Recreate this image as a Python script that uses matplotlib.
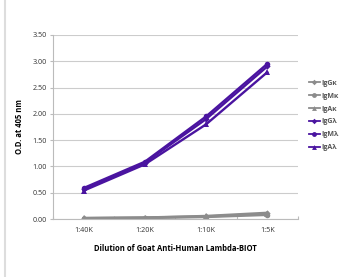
import matplotlib
matplotlib.use("Agg")
import matplotlib.pyplot as plt
from matplotlib.lines import Line2D

dilutions = ["1:40K", "1:20K", "1:10K", "1:5K"]

igg_k = [0.02, 0.03, 0.06, 0.12]
igm_k = [0.01, 0.02, 0.04, 0.08]
iga_k = [0.02, 0.03, 0.05, 0.10]
igg_l = [0.57, 1.07, 1.90, 2.90]
igm_l = [0.59, 1.09, 1.95, 2.95]
iga_l = [0.54, 1.04, 1.80, 2.79]

series = [
    ("IgG\u03ba", igg_k, "#8c8c8c", "D"),
    ("IgM\u03ba", igm_k, "#8c8c8c", "o"),
    ("IgA\u03ba", iga_k, "#8c8c8c", "^"),
    ("IgG\u03bb", igg_l, "#4a14a0", "D"),
    ("IgM\u03bb", igm_l, "#4a14a0", "o"),
    ("IgA\u03bb", iga_l, "#4a14a0", "^"),
]

plt.rcParams["font.family"] = ["Open Sans", "DejaVu Sans"]

fig = plt.figure(figsize=(3.58, 2.77), dpi=100)
ax = fig.add_axes([0.148, 0.209, 0.684, 0.665])

x = [i + 0.5 for i in range(len(dilutions))]
handles = []
for name, vals, col, mk in series:
    ax.plot(x, vals, color=col, lw=1.7, marker=mk, ms=4 if mk != "D" else 3.2,
            markeredgewidth=0)
    handles.append(Line2D([], [], color=col, lw=1.3, marker=mk,
                          ms=3.5 if mk != "D" else 2.8, markeredgewidth=0, label=name))

ax.set_xlim(0, 4)
ax.set_ylim(0, 3.5)
ax.set_yticks([0, 0.5, 1, 1.5, 2, 2.5, 3, 3.5])
ax.set_yticklabels([f"{v:.2f}" for v in ax.get_yticks()], fontsize=5.2, color="#333333")
ax.set_xticks([0, 1, 2, 3, 4])
ax.set_xticklabels([])
ax.set_xticks(x, minor=True)
ax.set_xticklabels(dilutions, minor=True, fontsize=5.2, color="#333333")
ax.tick_params(axis="x", which="minor", length=0, pad=6)
ax.tick_params(axis="x", which="major", length=2.5, color="#bbbbbb", direction="in")
ax.tick_params(axis="y", length=2.5, color="#bbbbbb", pad=2)
ax.grid(axis="y", color="#cccccc", lw=0.8)
ax.set_axisbelow(True)
for s in ["top", "right"]:
    ax.spines[s].set_visible(False)
for s in ["left", "bottom"]:
    ax.spines[s].set_color("#bbbbbb")
    ax.spines[s].set_linewidth(0.8)

ax.set_ylabel("O.D. at 405 nm", fontsize=5.5, fontweight="bold", labelpad=6)
ax.set_xlabel("Dilution of Goat Anti-Human Lambda-BIOT", fontsize=5.5,
              fontweight="bold", labelpad=7)

leg = fig.legend(handles=handles, loc="upper left", bbox_to_anchor=(0.862, 0.712),
                 frameon=False, fontsize=5, handlelength=1.6, handletextpad=0.2,
                 labelspacing=0.85, borderpad=0, borderaxespad=0)
for t in leg.get_texts():
    t.set_color("#555555")
    t.set_fontweight("bold")

fig.add_artist(Line2D([0.013, 0.013], [0.0, 1.0], color="#dddddd", lw=1.5))

fig.savefig("out.png", dpi=100)
